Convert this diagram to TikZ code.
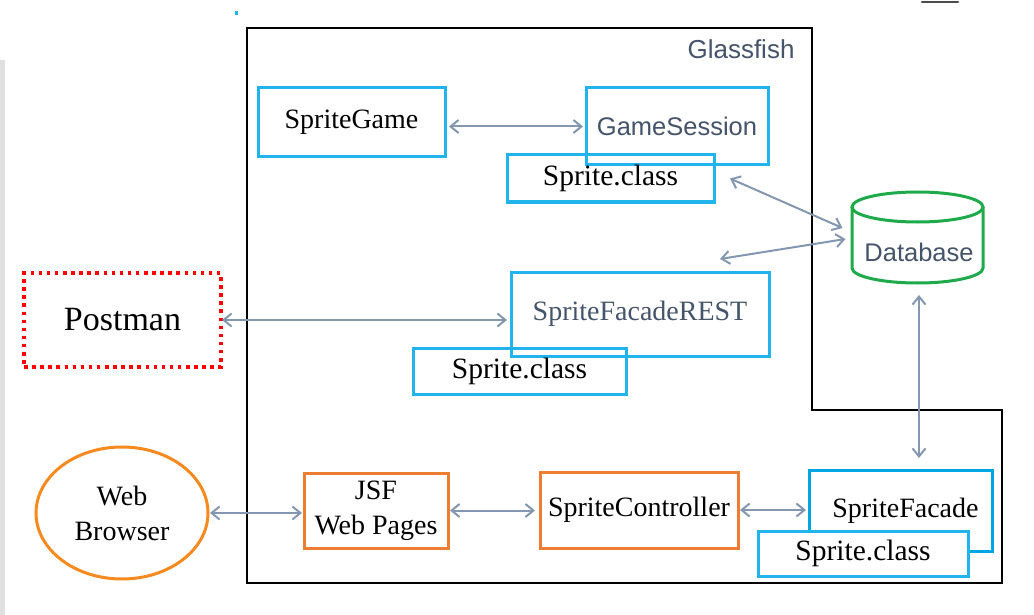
\documentclass[tikz,border=0pt]{standalone}
\usepackage{fontspec}
\setmainfont{Liberation Serif}
\newfontfamily\sansf{Liberation Sans}
\usetikzlibrary{arrows.meta,shapes.geometric}
\definecolor{lblue}{RGB}{33,180,236}
\definecolor{dblue}{RGB}{0,166,228}
\definecolor{orng}{RGB}{237,125,49}
\definecolor{orng2}{RGB}{246,138,31}
\definecolor{slate}{RGB}{68,84,106}
\definecolor{arrgray}{RGB}{132,151,176}
\definecolor{dbgreen}{RGB}{30,170,75}
\begin{document}
\begin{tikzpicture}[x=1pt,y=-1pt,
  box/.style={draw, line width=3pt, inner sep=0pt, outer sep=0pt, font=\fontsize{28}{35}\selectfont},
  bluebox/.style={box, draw=lblue},
  classbox/.style={box, draw=lblue, font=\fontsize{29.5}{35}\selectfont},
  orangebox/.style={box, draw=orng, align=center},
  sanslabel/.style={font=\sansf\fontsize{25.5}{30}\selectfont, text=slate, inner sep=0pt},
  link/.style={draw=arrgray, line width=2pt,
    {Straight Barb[length=8pt,width=13pt]}-{Straight Barb[length=8pt,width=13pt]}},
]
\fill[white] (0,0) rectangle (1034,615);
\useasboundingbox (0,0) rectangle (1034,615);
% screen artefacts
\fill[black!12] (0,60) rectangle (4.5,615);
\fill[lblue] (235,11) rectangle (238,15);
\draw[black!70, line width=2.5pt, line cap=round] (922,2) -- (958,2);

% Glassfish container
\draw[line width=2.6pt] (247,28) -- (812,28) -- (812,410) -- (1002,410) -- (1002,583) -- (247,583) -- cycle;
\node[sanslabel, font=\sansf\fontsize{26}{30}\selectfont] (gf) at (741,49) {Glassfish};

% top group
\node[bluebox, minimum width=187pt, minimum height=69pt] (sg) at (351.5,122.5) {SpriteGame};
\node[bluebox, sanslabel, draw=lblue, line width=3pt, minimum width=182pt, minimum height=77pt] (gs) at (677,126.5) {GameSession};
\node[classbox, minimum width=207pt, minimum height=47pt] (sc1) at (610.5,178.5) {Sprite.class};

% REST group
\node[bluebox, text=slate, minimum width=258pt, minimum height=84pt] (sfr) at (640,314) {SpriteFacadeREST};
\node[classbox, minimum width=213pt, minimum height=46pt] (sc2) at (519.5,371) {Sprite.class};

% Postman
\node[draw=red, line width=3.5pt, dash pattern=on 3.5pt off 4.6pt, inner sep=0pt, outer sep=0pt,
  minimum width=197pt, minimum height=94pt, font=\fontsize{34}{40}\selectfont] (pm) at (122.5,320) {Postman};

% Database
\node[sanslabel, minimum width=131pt, minimum height=61pt, outer sep=0pt] (db) at (919,252.5) {Database};
\draw[dbgreen, line width=3pt] (917.5,207) ellipse [x radius=65.5pt, y radius=15pt];
\draw[dbgreen, line width=3pt] (852,207) -- (852,268)
  .. controls (852,276.3) and (881.3,283) .. (917.5,283)
  .. controls (953.7,283) and (983,276.3) .. (983,268) -- (983,207);

% bottom row
\node[ellipse, draw=orng2, line width=3pt, inner sep=0pt, outer sep=0pt, minimum width=172pt, minimum height=132pt,
  align=center, font=\fontsize{28}{35}\selectfont] (wb) at (122,513) {Web\\Browser};
\node[orangebox, minimum width=144pt, minimum height=75pt] (jsf) at (376,510.5) {JSF\\Web Pages};
\node[orangebox, minimum width=198pt, minimum height=76pt] (ctl) at (639,510) {SpriteController};
\node[box, draw=dblue, minimum width=183pt, minimum height=81pt] (sf) at (900.5,510.5) {\hspace{10pt}SpriteFacade};
\node[classbox, fill=white, minimum width=210pt, minimum height=45pt] (sc3) at (863,553.5) {Sprite.class};

% connectors
\draw[link, shorten <=4pt, shorten >=3pt] (sg.east |- gs.west) -- (gs.west);
\draw[link] ([xshift=16pt]sc1.east) -- ([xshift=-11pt,yshift=24.5pt]db.west);
\draw[link] ([xshift=-49pt,yshift=13pt]sfr.north east) -- ([xshift=-8pt,yshift=13.5pt]db.west);
\draw[link, shorten <=1pt, shorten >=4pt] (pm.east) -- (pm.east -| sfr.west);
\draw[link, shorten <=2pt, shorten >=2pt] (wb.east) -- (wb.east -| jsf.west);
\draw[link, shorten <=2pt, shorten >=5pt] (jsf.east) -- (jsf.east -| ctl.west);
\draw[link, shorten <=2pt, shorten >=3pt] (ctl.east) -- (ctl.east -| sf.west);
\draw[link, shorten <=12pt, shorten >=12pt] (db.south) -- (db.south |- sf.north);
\end{tikzpicture}
\end{document}
